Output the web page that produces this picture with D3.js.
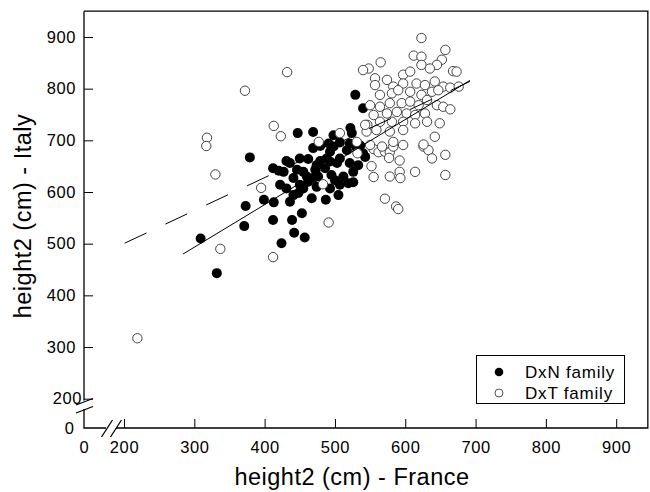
<!DOCTYPE html>
<html><head><meta charset="utf-8">
<script src="https://cdn.jsdelivr.net/npm/d3@7"></script>
<style>
body{margin:0;background:#fff}
svg{display:block}
text{font-family:Arial,"Liberation Sans",sans-serif;fill:#000}
</style>
</head><body>
<svg id="c" width="650" height="492"></svg>
<script>
// ---- data ----
const xTicks = [200, 300, 400, 500, 600, 700, 800, 900];
const yTicks = [200, 300, 400, 500, 600, 700, 800, 900];
const seriesNames = ["DxN family", "DxT family"];
const xTitle = "height2 (cm) - France";
const yTitle = "height2 (cm) - Italy";

const dxnFrance = [379,373,371,309,332,529,540,447,469,498,522,524,
  469,493,517,531,431,450,462,446,441,412,479,493,503,521,533,472,486,495,460,469,422,431,450,462,507,519,526,441,448,467,487,505,399,413,436,453,412,439,442,457,424,420,
  479,491,498,507,521,536,540,543,
  474,455,507,512,526,488,476,436,427,455,474,493,500];
const dxnItaly = [667,573,534,510,443,788,762,714,716,710,724,714,
  685,678,681,685,660,665,664,643,627,646,660,659,656,656,652,643,646,633,630,627,614,607,614,620,614,617,619,594,598,588,585,594,585,580,581,559,546,546,521,512,501,641,
  689,694,688,696,694,690,675,668,
  652,639,665,630,639,665,630,656,639,607,610,607,623];

const dxtFrance = [372,318,317,330,337,219,432,413,423,507,477,531,
  395,491,412,483,532,
  555,562,571,578,577,583,592,626,633,638,657,552,555,578,592,593,614,657,571,587,590,
  623,612,623,657,652,645,565,548,597,607,623,635,668,673,557,574,557,583,597,616,628,642,654,664,676,
  564,581,590,607,623,638,647,550,564,578,595,607,619,631,645,654,664,555,574,588,602,614,628,
  546,564,581,597,614,631,649,545,559,578,597,642,550,567,583,597,626,540,543];
const dxtItaly = [796,705,689,634,490,317,832,728,708,714,697,697,
  608,541,474,615,675,
  683,677,678,677,666,688,661,688,681,665,672,650,629,630,639,627,639,633,587,572,567,
  898,864,862,875,856,846,851,839,827,833,846,839,834,833,820,817,807,804,810,810,807,814,804,802,804,
  788,791,797,794,788,794,797,768,765,772,772,775,768,778,768,765,760,749,752,755,752,749,752,
  730,736,736,736,733,736,733,717,720,717,720,707,691,688,697,691,692,836,730];

// regression lines (France value, Italy value)
const fitDxN = [[284, 480], [692, 816]];
const fitDxT = [[201, 501], [692, 814]];

// ---- drawing ----
const svg = d3.select("#c");
const x = d3.scaleLinear().domain([200, 900]).range([124, 616.2]);
const y = d3.scaleLinear().domain([200, 900]).range([398.7, 37]);
const pLeft = 84, pRight = x(945), pTop = y(950), pBottom = 428;

// data points
const dxn = dxnFrance.map((v, i) => [v, dxnItaly[i]]);
const dxt = dxtFrance.map((v, i) => [v, dxtItaly[i]]);

svg.append("g").selectAll("circle").data(dxn).join("circle")
  .attr("cx", d => x(d[0])).attr("cy", d => y(d[1])).attr("r", 5)
  .attr("fill", "#000");
svg.append("g").selectAll("circle").data(dxt).join("circle")
  .attr("cx", d => x(d[0])).attr("cy", d => y(d[1])).attr("r", 4.7)
  .attr("fill", "#fff").attr("stroke", "#444").attr("stroke-width", 1);

// regression lines
const line = d3.line().x(d => x(d[0])).y(d => y(d[1]));
svg.append("path").attr("d", line(fitDxN)).attr("fill", "none")
  .attr("stroke", "#000").attr("stroke-width", 1);
svg.append("path").attr("d", line(fitDxT)).attr("fill", "none")
  .attr("stroke", "#000").attr("stroke-width", 1).attr("stroke-dasharray", "24,21");

// axes
const fontSize = 16.5;
const gx = svg.append("g").attr("transform", `translate(0,${pBottom})`)
  .call(d3.axisBottom(x).tickValues(xTicks).tickSize(-9).tickPadding(13).tickFormat(d3.format("d")));
gx.select(".domain").remove();
gx.attr("font-family", "Arial, 'Liberation Sans', sans-serif").attr("font-size", fontSize);
gx.selectAll("text").attr("letter-spacing", "0.6px");

const gy = svg.append("g").attr("transform", `translate(${pLeft},0)`)
  .call(d3.axisLeft(y).tickValues(yTicks).tickSize(-9).tickPadding(8).tickFormat(d3.format("d")));
gy.select(".domain").remove();
gy.attr("font-family", "Arial, 'Liberation Sans', sans-serif").attr("font-size", fontSize);
gy.selectAll("text").attr("letter-spacing", "0.6px")
  .attr("dx", d => d === 200 ? 6 : 0);

// zero labels on broken axes
svg.append("text").attr("x", pLeft).attr("y", pBottom + 24.7).attr("text-anchor", "middle")
  .attr("font-size", fontSize).text("0");
svg.append("text").attr("x", 74).attr("y", pBottom + 6).attr("text-anchor", "end")
  .attr("font-size", fontSize).text("0");

// axis lines with breaks
const ax = svg.append("g").attr("stroke", "#000").attr("fill", "none");
ax.append("path").attr("d", `M${pLeft},${pTop}V400.5`).attr("stroke-width", 1.3);
ax.append("path").attr("d", `M${pLeft},409V${pBottom}H106`).attr("stroke-width", 1.3);
ax.append("path").attr("d", `M116,${pBottom}H${pRight}V${pTop}H${pLeft}`).attr("stroke-width", 1.3);
// break marks
ax.append("path").attr("d", "M76,405L93,398.5 M76,413L93,406.5").attr("stroke-width", 1.3);
ax.append("path").attr("d", "M101.5,437L112.5,420 M110.5,437L121.5,420").attr("stroke-width", 1.3);

// titles
svg.append("text").attr("x", 352).attr("y", 485).attr("text-anchor", "middle")
  .attr("font-size", 23.5).attr("letter-spacing", "0.5px").text(xTitle);
svg.append("text").attr("transform", "translate(31,216) rotate(-90)").attr("text-anchor", "middle")
  .attr("font-size", 23.5).attr("letter-spacing", "0.5px").text(yTitle);

// legend
const lg = svg.append("g");
lg.append("rect").attr("x", 476.5).attr("y", 355.5).attr("width", 148).attr("height", 48)
  .attr("fill", "#fff").attr("stroke", "#000").attr("stroke-width", 1);
lg.append("circle").attr("cx", 499).attr("cy", 372).attr("r", 4.3).attr("fill", "#000");
lg.append("circle").attr("cx", 499).attr("cy", 393).attr("r", 4).attr("fill", "#fff")
  .attr("stroke", "#555").attr("stroke-width", 1);
lg.append("text").attr("x", 525).attr("y", 378).attr("font-size", 17)
  .attr("letter-spacing", "0.8px").text(seriesNames[0]);
lg.append("text").attr("x", 525).attr("y", 399).attr("font-size", 17)
  .attr("letter-spacing", "0.8px").text(seriesNames[1]);
</script>
</body></html>
